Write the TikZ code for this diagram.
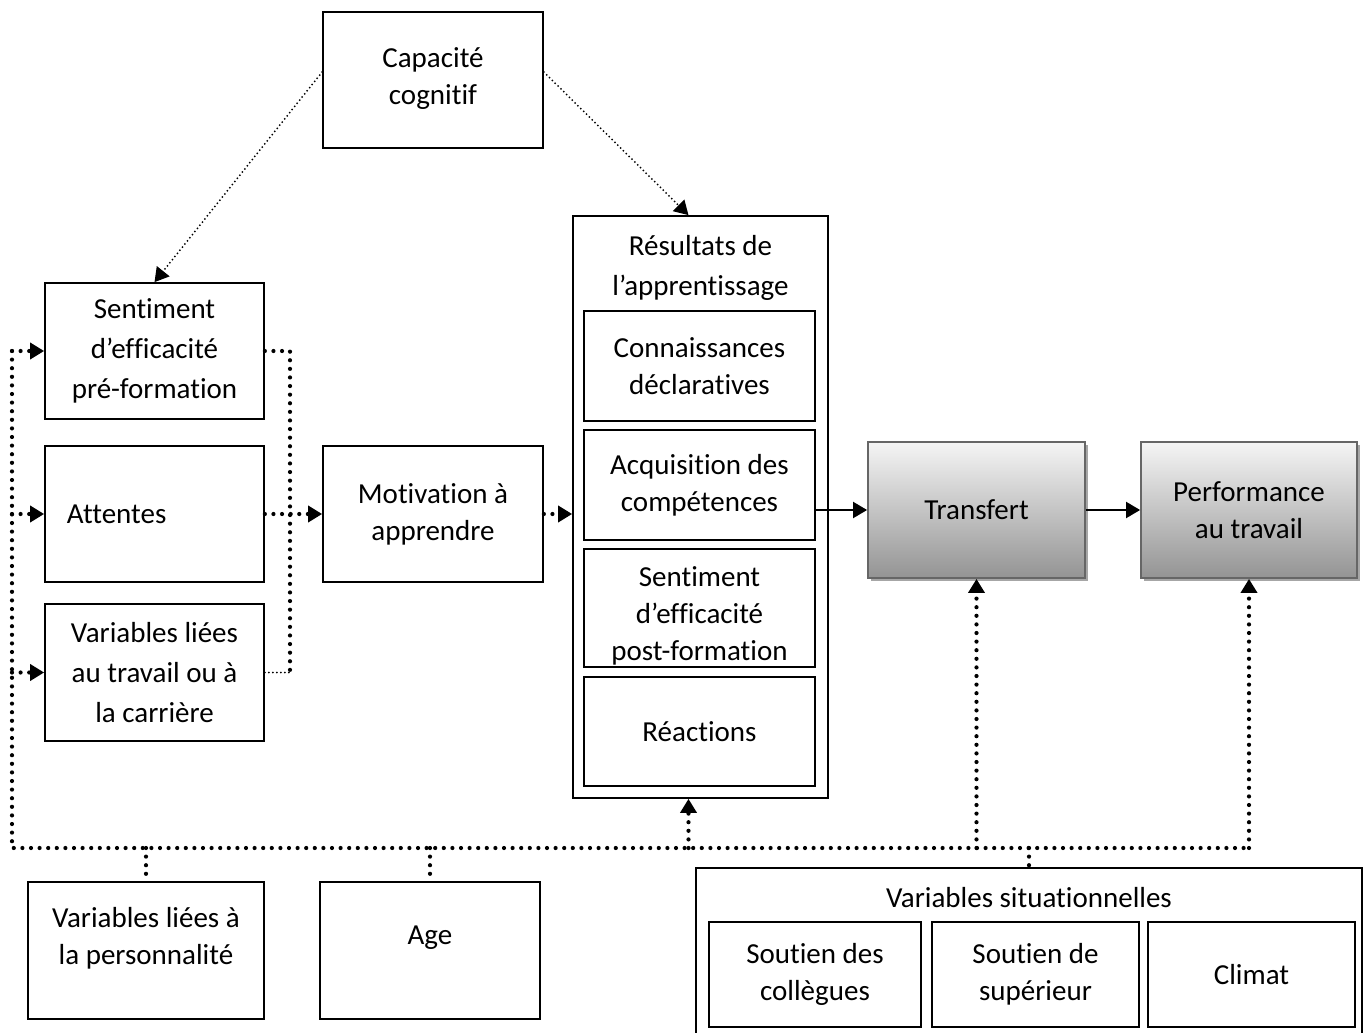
\documentclass[tikz,border=0pt]{standalone}
\usepackage{fontspec}
\setmainfont{Carlito}[Ligatures={NoCommon}]
\usetikzlibrary{arrows.meta,shadows}
\newcommand\myfont{\fontsize{14.5}{18.5}\selectfont}
\newcommand\myfontb{\fontsize{14.5}{20}\selectfont}
\begin{document}
\begin{tikzpicture}[x=0.5pt,y=-0.5pt,
 box/.style={draw,line width=0.85pt,align=center,inner sep=0pt,font=\myfont},
 txt/.style={align=center,inner sep=0pt,font=\myfont},
 grad/.style={draw=black!60,line width=0.9pt,top color=black!4,bottom color=black!42,align=center,inner sep=0pt,font=\myfont,drop shadow={shadow xshift=1.3pt,shadow yshift=-1.3pt,fill=black!35,opacity=1}},
 tip/.style={-{Triangle[length=7pt,width=8pt]}},
 dotl/.style={line width=2.1pt,line cap=round,dash pattern=on 0pt off 4.3pt},
 dota/.style={dotl,tip},
 thind/.style={line width=1pt,line cap=round,dash pattern=on 0pt off 2pt},
 solida/.style={line width=1pt,tip}]
\path[use as bounding box] (0,0) rectangle (1367,1033);
\clip (0,0) rectangle (1367,1033);

\node[box,minimum width=110pt,minimum height=68pt] (cap) at (433,80) {};
\node[txt] (captxt) at (433,79) {Capacité\\cognitif};
\node[box,font=\myfontb,minimum width=109.5pt,minimum height=68pt] (sent) at (154.5,351) {Sentiment\\d’efficacité\\pré-formation};
\node[box,align=left,text width=87.5pt,inner xsep=11pt,minimum height=68pt] (att) at (154.5,514) {Attentes};
\node[box,font=\myfontb,minimum width=109.5pt,minimum height=68.5pt] (var) at (154.5,672.5) {Variables liées\\au travail ou à\\la carrière};
\node[box,minimum width=110pt,minimum height=68pt] (mot) at (433,514) {Motivation à\\apprendre};
\node[box,minimum width=127.5pt,minimum height=291pt] (res) at (700.5,507) {};
\node[txt,font=\myfontb] (restit) at (700.5,268) {Résultats de\\l’apprentissage};
\node[box,minimum width=115.5pt,minimum height=55pt] (con) at (699.5,366) {Connaissances\\déclaratives};
\node[box,minimum width=115.5pt,minimum height=55pt] (acq) at (699.5,485) {Acquisition des\\compétences};
\node[box,minimum width=115.5pt,minimum height=59pt] (spost) at (699.5,608) {};
\begin{scope}
\clip (spost.south west) rectangle (spost.north east);
\node[txt] (sposttxt) at (699.5,616) {Sentiment\\d’efficacité\\post-formation};
\end{scope}
\node[box,minimum width=115.5pt,minimum height=54.5pt] (rea) at (699.5,731.5) {Réactions};
\node[grad,minimum width=108.5pt,minimum height=68pt] (tra) at (976.5,510) {Transfert};
\node[grad,minimum width=108pt,minimum height=68pt] (perf) at (1249,510) {Performance\\au travail};
\node[box,minimum width=118pt,minimum height=68.5pt] (pers) at (146,950.5) {};
\node[txt] (perstxt) at (146,938) {Variables liées à\\la personnalité};
\node[box,minimum width=110pt,minimum height=68.5pt] (age) at (430,950.5) {};
\node[txt] (agetxt) at (430,938) {Age};
\node[box,minimum width=333pt,minimum height=88.5pt] (situ) at (1029,956.5) {};
\node[txt] (situtxt) at (1029,898) {Variables situationnelles};
\node[box,minimum width=106pt,minimum height=52.5pt] (col) at (815,974.5) {Soutien des\\collègues};
\node[box,minimum width=103.5pt,minimum height=52.5pt] (sup) at (1035.5,974.5) {Soutien de\\supérieur};
\node[box,minimum width=103.5pt,minimum height=52.5pt] (cli) at (1251.5,974.5) {Climat};

\coordinate (busL) at (12,848);
\coordinate (rx) at (290,350);
\coordinate (rtop) at ([xshift=-6pt]res.north);
\coordinate (rbot) at ([xshift=-6pt]res.south);
\draw[thind,tip] ([yshift=4pt]cap.west) -- (sent.north);
\draw[thind,tip] ([yshift=4pt]cap.east) -- (rtop);
\draw[dotl] (busL |- sent.west) -- (busL) -- (perf.south |- busL);
\draw[dota] (busL |- sent.west) -- (sent.west);
\draw[dota] (busL |- att.west) -- (att.west);
\draw[dota] (busL |- var.west) -- (var.west);
\draw[dotl] (sent.east) -- (rx |- sent.east) -- (rx |- var.east);
\draw[thind] (var.east) -- (rx |- var.east);
\draw[dota] (att.east) -- (mot.west);
\draw[dota] (mot.east) -- (res.west |- mot.east);
\draw[solida] (acq.east |- tra.west) -- (tra.west);
\draw[solida] (tra.east) -- (perf.west);
\draw[dota] (rbot |- busL) -- (rbot);
\draw[dota] (tra.south |- busL) -- (tra.south);
\draw[dota] (perf.south |- busL) -- (perf.south);
\draw[dotl] (pers.north |- busL) -- (pers.north);
\draw[dotl] (age.north |- busL) -- (age.north);
\draw[dotl] (situ.north |- busL) -- (situ.north);
\end{tikzpicture}
\end{document}
